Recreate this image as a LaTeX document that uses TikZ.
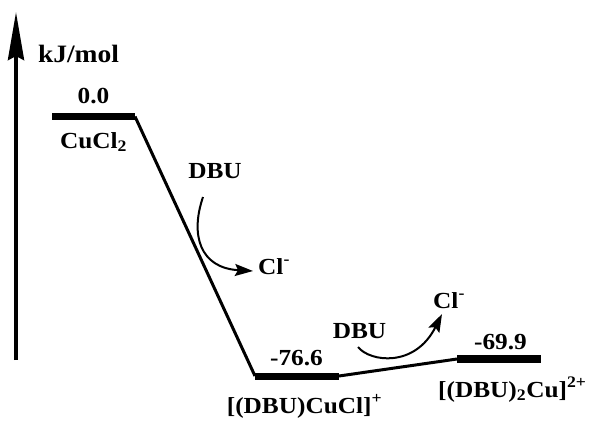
\documentclass[tikz,border=0pt]{standalone}
\usepackage{fontspec}
\setmainfont{Liberation Serif}[FakeStretch=1.1]
\usetikzlibrary{arrows.meta}
\tikzset{
  lbl/.style={font=\bfseries\fontsize{23}{23}\selectfont, inner sep=0pt, anchor=base},
  level/.style={line width=7pt, line cap=butt},
  link/.style={line width=3pt},
  react/.style={line width=2pt, -{Stealth[length=18pt,width=12pt,inset=3pt]}},
  axis/.style={line width=4pt, -{Stealth[length=48pt,width=16pt,inset=4pt]}}
}
\begin{document}
\begin{tikzpicture}[x=1pt,y=1pt]
\useasboundingbox (0,0) rectangle (592,-421);

% energy axis
\coordinate (ax0) at (16,-360);
\coordinate (ax1) at (16,-12);
\draw[axis] (ax0) -- (ax1);
\node[lbl, font=\bfseries\fontsize{25}{25}\selectfont] (unit) at (78.5,-62) {kJ/mol};

% energy levels
\coordinate (a1) at (52,-116.5);  \coordinate (a2) at (135,-116.5);
\coordinate (b1) at (255,-376);   \coordinate (b2) at (339,-376);
\coordinate (c1) at (457,-359);   \coordinate (c2) at (541,-359);
\draw[level] (a1) -- (a2);
\draw[level] (b1) -- (b2);
\draw[level, line width=8pt] (c1) -- (c2);

% links between levels
\draw[link, line join=round] (a2) -- (b1);
\draw[link] (b2) -- (c1);

% level labels
\node[lbl] (e0) at (93.5,-103) {0.0};
\node[lbl] (s0) at (93.5,-148) {CuCl\textsubscript{2}};
\node[lbl] (e1) at (296.5,-365) {-76.6};
\node[lbl] (s1) at (304.5,-413) {[(DBU)CuCl]\textsuperscript{+}};
\node[lbl] (e2) at (500.5,-349) {-69.9};
\node[lbl, anchor=base west] (s2) at (438,-397) {[(DBU)\textsubscript{2}Cu]\textsuperscript{2+}};

% first ligand exchange
\node[lbl] (dbu1) at (215,-178) {DBU};
\node[lbl, anchor=base west] (cl1) at (258,-274) {Cl\textsuperscript{-}};
\coordinate (p1) at (203,-197);
\coordinate (q1) at (253,-271);
\draw[react] (p1) .. controls (190,-235) and (200,-268) .. (q1);

% second ligand exchange
\node[lbl] (dbu2) at (359.5,-338) {DBU};
\node[lbl, anchor=base west] (cl2) at (433,-308) {Cl\textsuperscript{-}};
\coordinate (p2) at (358,-347);
\coordinate (q2) at (442,-314);
\draw[react] (p2) .. controls (370,-362) and (415,-368) .. (q2);
\end{tikzpicture}
\end{document}
